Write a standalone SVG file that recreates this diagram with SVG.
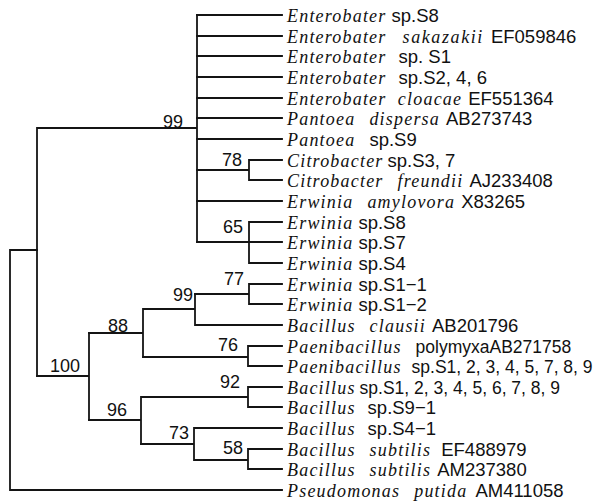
<svg xmlns="http://www.w3.org/2000/svg" width="600" height="503" viewBox="0 0 600 503">
<style>
.e{fill:none;stroke:#141414;stroke-width:1.8;stroke-linecap:square}
text{fill:#111}
.i{font-family:"Liberation Serif",serif;font-style:italic;font-size:18px;letter-spacing:1.2px}
.r{font-family:"Liberation Sans",Arial,sans-serif;font-size:18.5px}
.t{font-size:17.5px}
.n{font-family:"Liberation Sans",Arial,sans-serif;font-size:18px}
</style>
<rect width="600" height="503" fill="#fff"/>
<g id="connectors" class="e">
<path d="M10,250V490M10,250H37M10,490H282"/>
<path d="M37,128V376M37,128H197M197,15V242"/>
<path d="M197,15H282M197,36H282M197,56H282M197,77H282M197,98H282M197,118H282M197,139H282M197,201H282"/>
<path d="M197,170H249M249,160V180M249,160H282M249,180H282"/>
<path d="M197,242H249M249,222V263M249,222H282M249,242H282M249,263H282"/>
<path d="M37,376H89M89,333V420"/>
<path d="M89,333H143M143,309V357M143,309H195M195,294V325M195,325H282"/>
<path d="M195,294H249M249,284V304M249,284H282M249,304H282"/>
<path d="M143,357H248M248,346V366M248,346H282M248,366H282"/>
<path d="M89,420H141M141,397V444M141,397H248M248,387V407M248,387H282M248,407H282"/>
<path d="M141,444H194M194,428V460M194,428H282M194,460H248M248,449V469M248,449H282M248,469H282"/>
</g>
<g id="support">
<g id="b99a"><text class="n" x="163" y="128">99</text></g>
<g id="b78"><text class="n" x="222" y="166">78</text></g>
<g id="b65"><text class="n" x="223" y="233">65</text></g>
<g id="b77"><text class="n" x="224" y="285">77</text></g>
<g id="b99b"><text class="n" x="173" y="301">99</text></g>
<g id="b88"><text class="n" x="108" y="332">88</text></g>
<g id="b76"><text class="n" x="218" y="351">76</text></g>
<g id="b100"><text class="n" x="50" y="372">100</text></g>
<g id="b92"><text class="n" x="220" y="388">92</text></g>
<g id="b96"><text class="n" x="107" y="416">96</text></g>
<g id="b73"><text class="n" x="169" y="439">73</text></g>
<g id="b58"><text class="n" x="223" y="454">58</text></g>
</g>
<g id="leaves">
<g id="L0"><text x="287" y="22"><tspan class="i">Enterobater</tspan><tspan class="r" dx="5">sp.S8</tspan></text></g>
<g id="L1"><text x="287" y="43"><tspan class="i">Enterobater</tspan><tspan class="i" dx="16" style="letter-spacing:1.6px">sakazakii</tspan><tspan class="r" dx="7">EF059846</tspan></text></g>
<g id="L2"><text x="287" y="63"><tspan class="i">Enterobater</tspan><tspan class="r" dx="12">sp. S1</tspan></text></g>
<g id="L3"><text x="287" y="84"><tspan class="i">Enterobater</tspan><tspan class="r" dx="12">sp.S2, 4, 6</tspan></text></g>
<g id="L4"><text x="287" y="105"><tspan class="i">Enterobater</tspan><tspan class="i" dx="12">cloacae</tspan><tspan class="r" dx="6">EF551364</tspan></text></g>
<g id="L5"><text x="287" y="125"><tspan class="i">Pantoea</tspan><tspan class="i" dx="14">dispersa</tspan><tspan class="r" dx="6">AB273743</tspan></text></g>
<g id="L6"><text x="287" y="146"><tspan class="i">Pantoea</tspan><tspan class="r" dx="14">sp.S9</tspan></text></g>
<g id="L7"><text x="287" y="167"><tspan class="i">Citrobacter</tspan><tspan class="r" dx="4">sp.S3, 7</tspan></text></g>
<g id="L8"><text x="287" y="187"><tspan class="i">Citrobacter</tspan><tspan class="i" dx="14">freundii</tspan><tspan class="r" dx="6">AJ233408</tspan></text></g>
<g id="L9"><text x="287" y="208"><tspan class="i">Erwinia</tspan><tspan class="i" dx="14">amylovora</tspan><tspan class="r" dx="6">X83265</tspan></text></g>
<g id="L10"><text x="287" y="229"><tspan class="i">Erwinia</tspan><tspan class="r" dx="5">sp.S8</tspan></text></g>
<g id="L11"><text x="287" y="249"><tspan class="i">Erwinia</tspan><tspan class="r" dx="5">sp.S7</tspan></text></g>
<g id="L12"><text x="287" y="270"><tspan class="i">Erwinia</tspan><tspan class="r" dx="5">sp.S4</tspan></text></g>
<g id="L13"><text x="287" y="291"><tspan class="i">Erwinia</tspan><tspan class="r" dx="5">sp.S1−1</tspan></text></g>
<g id="L14"><text x="287" y="311"><tspan class="i">Erwinia</tspan><tspan class="r" dx="5">sp.S1−2</tspan></text></g>
<g id="L15"><text x="287" y="332"><tspan class="i">Bacillus</tspan><tspan class="i" dx="14">clausii</tspan><tspan class="r" dx="6">AB201796</tspan></text></g>
<g id="L16"><text x="287" y="353"><tspan class="i">Paenibacillus</tspan><tspan class="r t" dx="14">polymyxaAB271758</tspan></text></g>
<g id="L17"><text x="287" y="373"><tspan class="i">Paenibacillus</tspan><tspan class="r t" dx="10">sp.S1, 2, 3, 4, 5, 7, 8, 9</tspan></text></g>
<g id="L18"><text x="287" y="394"><tspan class="i">Bacillus</tspan><tspan class="r t" dx="4">sp.S1, 2, 3, 4, 5, 6, 7, 8, 9</tspan></text></g>
<g id="L19"><text x="287" y="414"><tspan class="i">Bacillus</tspan><tspan class="r" dx="12">sp.S9−1</tspan></text></g>
<g id="L20"><text x="287" y="435"><tspan class="i">Bacillus</tspan><tspan class="r" dx="12">sp.S4−1</tspan></text></g>
<g id="L21"><text x="287" y="456"><tspan class="i">Bacillus</tspan><tspan class="i" dx="14">subtilis</tspan><tspan class="r" dx="10">EF488979</tspan></text></g>
<g id="L22"><text x="287" y="476"><tspan class="i">Bacillus</tspan><tspan class="i" dx="14">subtilis</tspan><tspan class="r" dx="6">AM237380</tspan></text></g>
<g id="L23"><text x="287" y="497"><tspan class="i">Pseudomonas</tspan><tspan class="i" dx="14">putida</tspan><tspan class="r" dx="8">AM411058</tspan></text></g>
</g>
</svg>
